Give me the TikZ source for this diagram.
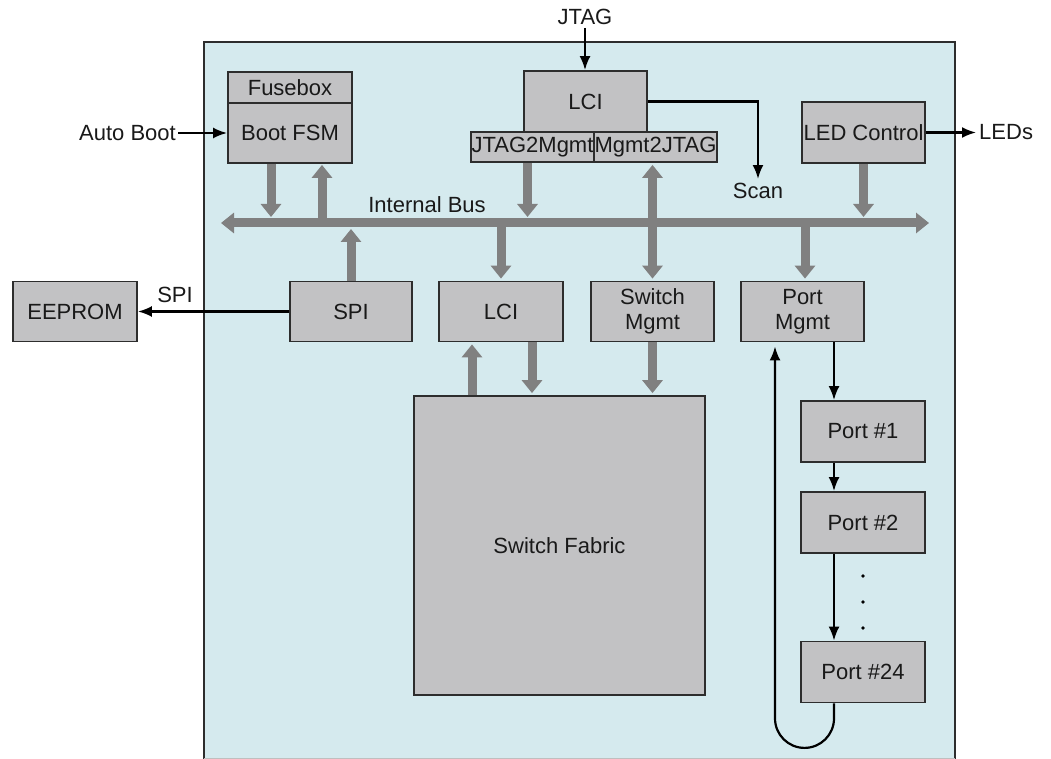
\documentclass[tikz,border=0pt]{standalone}
\usepackage{fontspec}
\setmainfont{Liberation Sans}
\usetikzlibrary{arrows.meta,calc}
\definecolor{chip}{RGB}{213,234,238}
\definecolor{boxfill}{RGB}{194,194,196}
\definecolor{busgray}{RGB}{128,128,128}
\definecolor{edge}{RGB}{45,45,45}
\definecolor{txt}{RGB}{25,25,25}
\begin{document}
\begin{tikzpicture}[x=1pt,y=-1pt,
 every node/.style={font=\fontsize{22}{25}\selectfont, inner sep=0pt, text=txt},
 blk/.style={draw=edge, fill=boxfill, line width=1.8pt, minimum width=124pt, minimum height=61pt, align=center},
 garrow/.style={draw=busgray, line width=9pt, -{Triangle[width=20pt,length=13pt]}},
 gboth/.style={draw=busgray, line width=9pt, {Triangle[width=20pt,length=13pt]}-{Triangle[width=20pt,length=13pt]}},
 karrow/.style={draw=black, line width=2.2pt, -{Latex[length=14pt,width=11pt]}},
]
\useasboundingbox (0,0) rectangle (1051,759);
\fill[chip] (204,42) rectangle (955,759);
\draw[line width=1.8pt, edge] (204,762) -- (204,42) -- (955,42) -- (955,762);
\draw[line width=1pt, gray!50] (204,758.5) -- (955,758.5);

% top row
\node[blk, minimum height=31pt] (fuse) at (290,87.5) {Fusebox};
\node[blk, minimum height=60pt] (bootfsm) at (290,133) {Boot FSM};
\node[blk, minimum width=123pt] (lci) at (585.5,101.5) {LCI};
\node[blk, minimum width=123pt, minimum height=30pt] (j2m) at (532.5,147) {JTAG2Mgmt};
\node[blk, minimum width=123pt, minimum height=30pt] (m2j) at (655.5,147) {Mgmt2JTAG};
\node[blk, minimum width=123pt] (led) at (863.5,132.5) {LED Control};

% labels outside
\node[anchor=east] (auto) at (176,133) {Auto Boot};
\node (jtag) at (585,17) {JTAG};
\node (scan) at (758,191) {Scan};
\node[anchor=west] (leds) at (979,132.5) {LEDs};
\node (spilbl) at (175,295) {SPI};
\node (buslbl) at (427,205) {Internal Bus};

% bus
\coordinate (busL) at (221,223);
\coordinate (busR) at (929,223);
\draw[gboth] (busL) -- (busR);

% lower row
\node[blk, minimum height=60pt] (eeprom) at (75,311.5) {EEPROM};
\node[blk, minimum height=60pt, minimum width=122pt] (spi) at (351,311.5) {SPI};
\node[blk, minimum height=60pt] (lci2) at (501,311.5) {LCI};
\node[blk, minimum height=60pt, minimum width=123pt] (swm) at (652.5,311.5) {Switch\\Mgmt};
\node[blk, minimum height=60pt, minimum width=123pt] (pm) at (802.5,311.5) {Port\\Mgmt};

\node[blk, minimum width=291pt, minimum height=299pt] (sf) at (559.5,545.5) {Switch Fabric};

\node[blk] (p1) at (863,431.5) {Port \#1};
\node[blk] (p2) at (863,522.5) {Port \#2};
\node[blk] (p24) at (863,672) {Port \#24};

% gray arrows to/from bus
\draw[garrow, shorten >=6pt] ([xshift=-19pt]bootfsm.south) -- ([xshift=-19pt]bootfsm.south |- busL);
\draw[garrow, shorten >=1pt] ([xshift=32pt]bootfsm.south |- busL) -- ([xshift=32pt]bootfsm.south);
\draw[garrow, shorten >=6pt] ([xshift=-5pt]j2m.south) -- ([xshift=-5pt]j2m.south |- busL);
\draw[gboth, shorten >=2pt, shorten <=2pt] (swm.north) -- (swm.north |- m2j.south);
\draw[garrow, shorten >=6pt] (led.south) -- (led.south |- busL);
\draw[garrow, shorten >=6pt] (spi.north) -- (spi.north |- busL);
\draw[garrow, shorten >=2pt] (lci2.north |- busL) -- (lci2.north);
\draw[garrow, shorten >=2pt] ([xshift=2.5pt]pm.north |- busL) -- ([xshift=2.5pt]pm.north);

% gray arrows to switch fabric
\draw[garrow, shorten >=2pt] ([xshift=-29pt]lci2.south |- sf.north) -- ([xshift=-29pt]lci2.south);
\draw[garrow, shorten >=2pt] ([xshift=31pt]lci2.south) -- ([xshift=31pt]lci2.south |- sf.north);
\draw[garrow, shorten >=2pt] (swm.south) -- (swm.south |- sf.north);

% black arrows
\draw[karrow, shorten <=2pt] (auto.east) -- (bootfsm.west);
\draw[karrow, shorten <=3pt] (jtag.south) -- (jtag.south |- lci.north);
\draw[karrow, shorten >=4pt] (lci.east) -| (scan.north);
\draw[karrow, shorten >=3pt] (led.east) -- (leds.west);
\draw[karrow] (spi.west) -- (eeprom.east);
\draw[karrow] ([xshift=-29pt]p1.north |- pm.south) -- ([xshift=-29pt]p1.north);
\draw[karrow] ([xshift=-29pt]p1.south) -- ([xshift=-29pt]p2.north);
\draw[karrow] ([xshift=-29pt]p2.south) -- ([xshift=-29pt]p24.north);
\draw[karrow, shorten >=4pt] ([xshift=-29pt]p24.south) -- ++(0,15) arc[start angle=0, end angle=-180, radius=29.5pt] -- ([xshift=-27.5pt]pm.south);

% dots
\fill[black] (863,576) circle (1.8pt);
\fill[black] (863,602) circle (1.8pt);
\fill[black] (863,628) circle (1.8pt);
\end{tikzpicture}
\end{document}
